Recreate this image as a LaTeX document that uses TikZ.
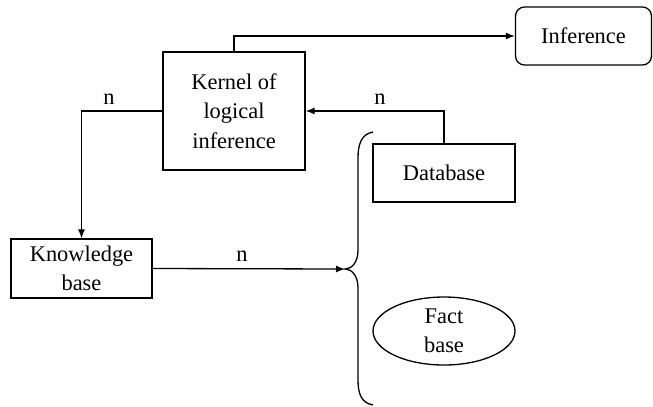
\documentclass[tikz,border=0pt]{standalone}
\usepackage{fontspec}
\setmainfont{Liberation Serif}
\usetikzlibrary{arrows.meta,shapes.geometric}
\begin{document}
\begin{tikzpicture}[x=1bp,y=-1bp,
  every node/.style={font=\fontsize{22.5}{29.5}\selectfont, align=center, inner sep=0pt},
  box/.style={draw, line width=1.3bp, rectangle},
  rbox/.style={box, rounded corners=9bp},
  oval/.style={draw, line width=1.3bp, ellipse},
  conn/.style={line width=1.3bp},
  arr/.style={conn, -{Latex[length=9bp,width=7bp]}},
  lbl/.style={font=\fontsize{22.5}{24}\selectfont}]
\useasboundingbox (0,0) rectangle (653,406);

\node[box, minimum width=142bp, minimum height=118bp] (kernel) at (234,111) {Kernel of\\logical\\inference};
\node[box, minimum width=141bp, minimum height=59bp] (know) at (81.5,268.5) {Knowledge\\base};
\node[rbox, minimum width=136bp, minimum height=58bp] (infer) at (583.5,36) {Inference};
\node[box, minimum width=142bp, minimum height=58bp] (db) at (444,173) {Database};
\node[oval, minimum width=142bp, minimum height=68bp] (fact) at (444,331) {Fact\\base};

\coordinate (tip) at (345,269);

% connectors
\draw[arr] (kernel.north) |- (infer.west);
\draw[arr] (db.north) |- (kernel.east);
\draw[arr] (kernel.west) -| (know.north);
\draw[arr] (know.east) -- (tip);

% brace grouping database and fact base
\draw[conn] (373,132) .. controls (361,134) and (358,145) .. (358,158)
  -- (358,250) .. controls (358,262) and (352,269) .. (tip)
  .. controls (352,269) and (358,276) .. (358,288)
  -- (358,380) .. controls (358,393) and (361,403) .. (373,405);

% labels
\node[lbl] (n1) at (109,99) {n};
\node[lbl] (n2) at (380,99) {n};
\node[lbl] (n3) at (242,256) {n};
\end{tikzpicture}
\end{document}
